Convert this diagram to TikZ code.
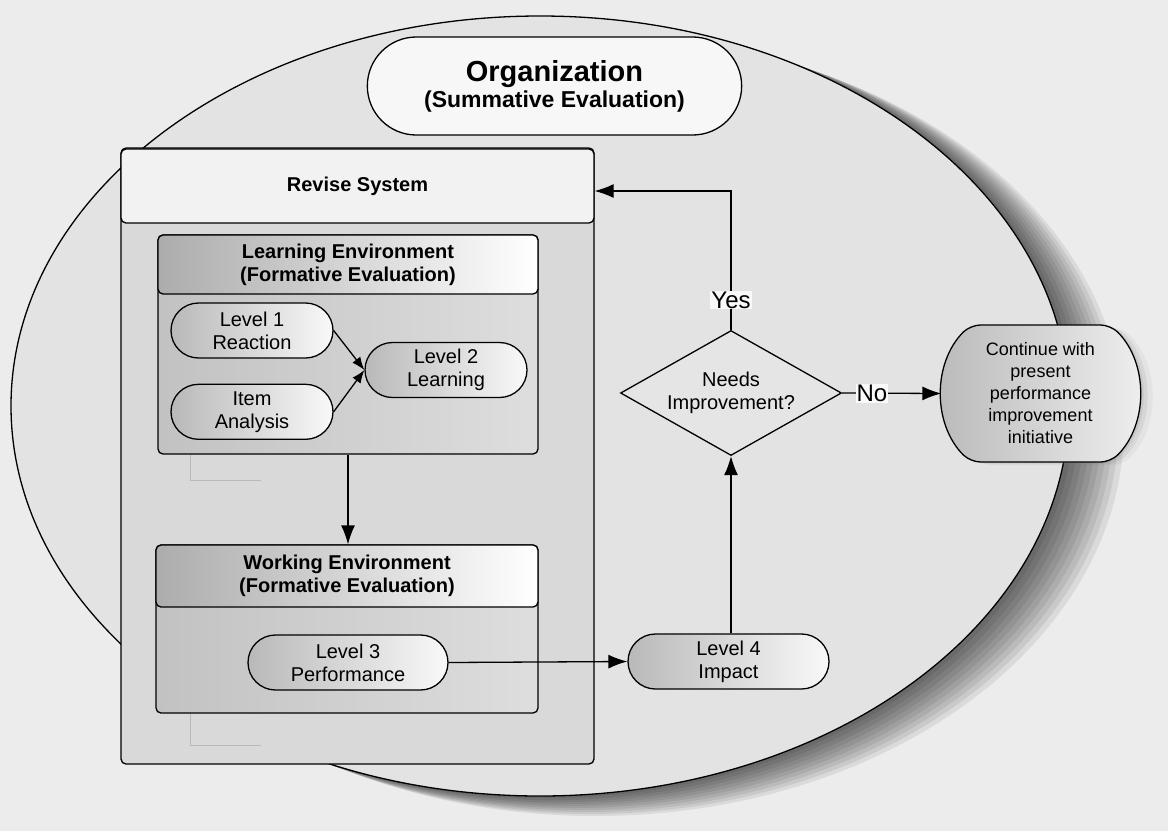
\documentclass[tikz,border=0pt]{standalone}
\usepackage{fontspec}
\setmainfont{Liberation Sans}
\usetikzlibrary{shapes.misc, shapes.geometric, arrows.meta, positioning, shadows}

\begin{document}
\begin{tikzpicture}[x=1pt, y=-1pt, line width=1.3pt,
      font=\fontsize{20}{23}\selectfont,
      arr/.style={-{Latex[length=19pt,width=14pt]}},
      small arr/.style={-{Latex[length=13pt,width=10pt]}},
      level/.style={rounded rectangle, draw, left color=gray!55, right color=gray!5,
        minimum width=162pt, minimum height=55pt, inner sep=0pt, align=center},
      envbox/.style={draw, rounded corners=5pt, left color=gray!48, right color=gray!26, inner sep=0pt},
      envhead/.style={draw, rounded corners=5pt, left color=gray!65, right color=white,
        inner sep=0pt, align=center, font=\bfseries\fontsize{20}{23}\selectfont},
      lab/.style={fill=gray!5, inner sep=1pt, font=\fontsize{24}{28}\selectfont},
      soft shadow/.style={drop shadow={shadow xshift=3pt, shadow yshift=-1pt, opacity=.15},
        drop shadow={shadow xshift=7pt, shadow yshift=-2pt, opacity=.12},
        drop shadow={shadow xshift=12pt, shadow yshift=-3pt, opacity=.08}}]
      \useasboundingbox (0,0) rectangle (1168,831);
      \fill[gray!15] (0,0) rectangle (1168,831);
      % organization ellipse
      \foreach \i in {1,...,10}
        \fill[black, opacity=.075] (540+5.5*\i,406+2*\i) ellipse [x radius=529, y radius=390];
      \draw[fill=gray!22] (540,406) ellipse [x radius=529, y radius=390];
      \node[rounded rectangle, draw, fill=gray!6, minimum width=381pt, minimum height=98pt,
        align=center, font=\bfseries] (org) at (554.5,86)
        {{\fontsize{29}{31}\selectfont Organization}\\[2pt]{\fontsize{23}{27}\selectfont (Summative Evaluation)}};
      % revise system
      \node[draw, rounded corners=5pt, fill=gray!30, minimum width=473pt, minimum height=616pt] (rev) at (357.5,456) {};
      \node[draw, rounded corners=5pt, fill=gray!10, minimum width=473pt, minimum height=74pt,
        font=\bfseries\fontsize{20}{23}\selectfont] (revhead) at (357.5,186) {Revise System};
      \draw[gray!55, line width=.8pt] (237,270) -- (190,270) -- (190,480) -- (261,480);
      \draw[gray!55, line width=.8pt] (190,713) -- (190,745) -- (261,745);
      % learning environment
      \node[envbox, minimum width=380pt, minimum height=219pt] (lebox) at (348,344.5) {};
      \node[envhead, minimum width=380pt, minimum height=59pt] (lehead) at (348,264.5)
        {Learning Environment\\(Formative Evaluation)};
      \node[level] (l1) at (252,330.5) {Level 1\\Reaction};
      \node[level, below=25pt of l1] (ia) {Item\\Analysis};
      \node[level] (l2) at (446,370) {Level 2\\Learning};
      \draw[small arr] (l1.east) -- (l2.west);
      \draw[small arr] (ia.east) -- (l2.west);
      % working environment
      \node[envbox, minimum width=382pt, minimum height=168pt] (webox) at (347,629) {};
      \node[envhead, minimum width=382pt, minimum height=62pt] (wehead) at (347,576)
        {Working Environment\\(Formative Evaluation)};
      \node[level, minimum width=200pt] (l3) at (348,662.5) {Level 3\\Performance};
      \node[level, minimum width=201pt] (l4) at (728.5,661.5) {Level 4\\Impact};
      \draw[arr] (lebox.south) -- (lebox.south |- wehead.north);
      \draw[arr] (l3.east) -- (l4.west);
      % decision
      \node[diamond, draw, aspect=1.77, minimum width=221pt, minimum height=125pt, inner sep=0pt,
        fill=gray!20, align=center] (dia) at (731,393) {Needs\\Improvement?};
      \node[rounded rectangle, rounded rectangle arc length=90, rounded corners=10pt, draw,
        left color=gray!55, right color=gray!12, minimum width=197pt, minimum height=137pt,
        inner sep=0pt, align=center, font=\fontsize{18}{22}\selectfont, soft shadow] (cont) at (1040.5,393.5)
        {Continue with\\present\\performance\\improvement\\initiative};
      \coordinate (up) at (731,191);
      \draw[arr] (dia.south |- l4.north) -- (dia.south);
      \draw[arr] (dia.north) -- (up) -- (up -| rev.east);
      \node[lab] (yes) at (731,300) {Yes};
      \draw[arr] (dia.east) -- node[lab, pos=.3] (no) {No} (cont.west);
    \end{tikzpicture}
\end{document}
